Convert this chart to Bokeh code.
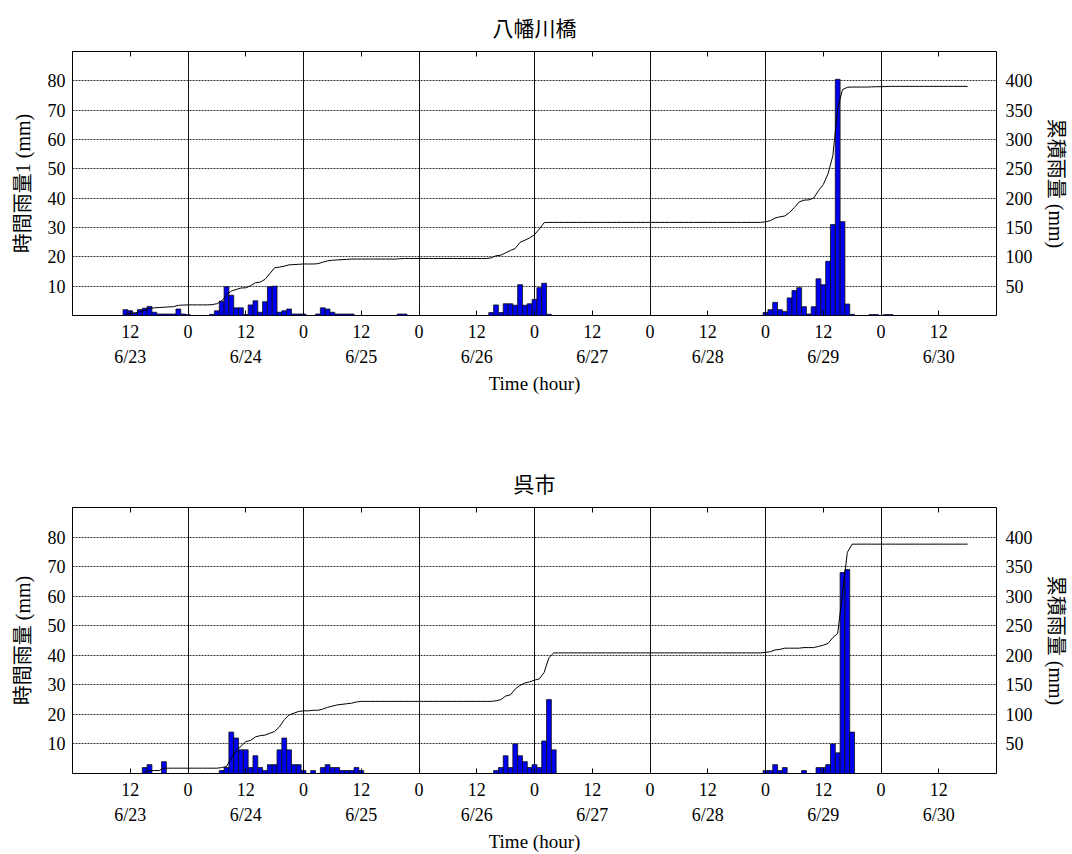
import numpy as np
from bokeh.plotting import figure
from bokeh.models import LinearAxis, FixedTicker, Range1d, Grid, ColumnDataSource, Title
from bokeh.layouts import column
from bokeh.embed import file_html
from bokeh.resources import INLINE

# ---------------- data ----------------
x_ticks = [12, 24, 36, 48, 60, 72, 84, 96, 108, 120, 132, 144, 156, 168, 180]
x_tick_labels = ["12", "0", "12", "0", "12", "0", "12", "0", "12", "0", "12", "0", "12", "0", "12"]
date_ticks = [12, 36, 60, 84, 108, 132, 156, 180]
date_labels = ["6/23", "6/24", "6/25", "6/26", "6/27", "6/28", "6/29", "6/30"]
midnights = [24, 48, 72, 96, 120, 144, 168]
left_ticks = [10, 20, 30, 40, 50, 60, 70, 80]
right_ticks = [50, 100, 150, 200, 250, 300, 350, 400]
end_hour = 186

titles = ["八幡川橋", "呉市"]
left_labels = ["時間雨量1 (mm)", "時間雨量 (mm)"]
right_label = "累積雨量 (mm)"
x_label = "Time (hour)"

# 八幡川橋 hourly rainfall (hour index from 6/23 0:00, mm)
yawata_hours = [11, 12, 13, 14, 15, 16, 17, 18, 19, 20, 21, 22, 23, 24,
                29, 30, 31, 32, 33, 34, 35, 36, 37, 38, 39, 40, 41, 42, 43, 44, 45, 46, 47, 48,
                51, 52, 53, 54, 55, 56, 57, 58,
                68, 69,
                87, 88, 89, 90, 91, 92, 93, 94, 95, 96, 97, 98, 99,
                144, 145, 146, 147, 148, 149, 150, 151, 152, 153, 154, 155, 156, 157, 158, 159, 160, 161, 162,
                166, 167, 169, 170]
yawata_rain = [2.0, 1.6, 0.8, 2.0, 2.5, 3.1, 1.1, 0.5, 0.5, 0.5, 0.5, 2.2, 0.5, 0.3,
               0.4, 1.6, 4.9, 9.8, 6.9, 2.6, 2.6, 0.3, 3.6, 5.0, 1.1, 4.7, 9.8, 10.0, 1.1, 1.6, 2.2, 0.5, 0.5, 0.5,
               0.5, 2.6, 2.2, 1.1, 0.5, 0.5, 0.5, 0.5,
               0.5, 0.5,
               1.0, 3.6, 1.0, 4.0, 4.0, 3.5, 10.5, 3.5, 4.0, 5.5, 9.5, 11.0, 0.4,
               1.0, 2.0, 4.5, 2.0, 1.4, 6.0, 8.5, 9.5, 3.0, 0.5, 3.0, 12.5, 10.5, 18.5, 31.0, 80.5, 32.0, 3.9, 0.4,
               0.3, 0.3, 0.3, 0.3]

# 呉市 hourly rainfall
kure_hours = [15, 16, 19,
              31, 32, 33, 34, 35, 36, 37, 38, 39, 40, 41, 42, 43, 44, 45, 46, 47, 48,
              50, 52, 53, 54, 55, 56, 57, 58, 59, 60,
              88, 89, 90, 91, 92, 93, 94, 95, 96, 97, 98, 99, 100,
              144, 145, 146, 147, 148, 152, 155, 156, 157, 158, 159, 160, 161, 162]
kure_rain = [2, 3, 4,
             1, 2, 14, 12, 8, 8, 2, 6, 2, 1, 3, 3, 8, 12, 8, 3, 3, 1,
             1, 2, 3, 2, 2, 1, 1, 1, 2, 1,
             1, 2, 6, 2, 10, 6, 4, 2, 3, 2, 11, 25, 8,
             1, 1, 3, 1, 2, 1, 2, 2, 3, 10, 7, 68, 69, 14]

SERIF = "'Liberation Serif', 'Times New Roman', serif"
MIXED = "'Liberation Serif', 'Noto Sans CJK JP'"
CJK = "Noto Sans CJK JP"


def cumulative(hours, rain, end):
    start = hours[0]
    full = np.zeros(end - start + 1)
    for h, r in zip(hours, rain):
        full[h - start] += r
    return np.arange(start, end + 1), np.cumsum(full)


def panel(title, ylabel, hours, rain, height, b_left, b_right, b_top, b_bottom, title_standoff):
    p = figure(width=1072, height=height, output_backend="svg", toolbar_location=None,
               x_range=Range1d(0, 192), y_range=Range1d(0, 90),
               x_axis_type=None, y_axis_type=None,
               min_border_left=b_left, min_border_right=b_right,
               min_border_top=b_top, min_border_bottom=b_bottom)
    p.extra_y_ranges = {"cum": Range1d(0, 450)}
    p.outline_line_color = "black"
    p.outline_line_width = 1
    p.background_fill_color = "white"
    p.border_fill_color = "white"

    # grids
    hg = Grid(dimension=1, ticker=FixedTicker(ticks=left_ticks, minor_ticks=[]),
              grid_line_color="#333333", grid_line_dash="2 1", grid_line_width=1)
    vg = Grid(dimension=0, ticker=FixedTicker(ticks=midnights, minor_ticks=[]),
              grid_line_color="#111111", grid_line_width=1)
    p.add_layout(hg)
    p.add_layout(vg)

    # bars
    src = ColumnDataSource(dict(x=hours, top=rain))
    p.vbar(x="x", top="top", width=1.0, source=src, fill_color="#0000f0",
           line_color="#101010", line_width=0.8)

    # cumulative line
    cx, cy = cumulative(hours, rain, end_hour)
    p.line(cx, cy, y_range_name="cum", line_color="black", line_width=1)

    def style(ax):
        ax.axis_line_color = None
        ax.major_label_text_font = SERIF
        ax.major_label_text_font_size = "18px"
        ax.major_label_text_color = "black"
        ax.major_tick_line_color = "black"
        ax.minor_tick_line_color = None
        ax.axis_label_text_font_style = "normal"
        ax.axis_label_text_color = "black"

    # left axis
    ly = LinearAxis(ticker=FixedTicker(ticks=left_ticks, minor_ticks=[]))
    style(ly)
    ly.major_tick_in = 0
    ly.major_tick_out = 0
    ly.major_label_standoff = 7
    ly.axis_label = ylabel
    ly.axis_label_text_font = MIXED
    ly.axis_label_text_font_size = "20px"
    ly.axis_label_standoff = 11
    p.add_layout(ly, "left")

    # right axis
    ry = LinearAxis(y_range_name="cum", ticker=FixedTicker(ticks=right_ticks, minor_ticks=[]))
    style(ry)
    ry.major_tick_in = 0
    ry.major_tick_out = 0
    ry.major_label_standoff = 9
    ry.axis_label = right_label
    ry.axis_label_text_font = MIXED
    ry.axis_label_text_font_size = "20px"
    ry.axis_label_standoff = 9
    p.add_layout(ry, "right")

    # bottom hour axis
    bx = LinearAxis(ticker=FixedTicker(ticks=x_ticks, minor_ticks=[]))
    style(bx)
    bx.major_tick_in = 5
    bx.major_tick_out = 0
    bx.major_label_standoff = 9
    bx.major_label_overrides = {t: l for t, l in zip(x_ticks, x_tick_labels)}
    p.add_layout(bx, "below")

    # bottom date axis
    dx = LinearAxis(ticker=FixedTicker(ticks=date_ticks, minor_ticks=[]))
    style(dx)
    dx.major_tick_in = 0
    dx.major_tick_out = 0
    dx.major_label_standoff = 6
    dx.major_label_overrides = {t: l for t, l in zip(date_ticks, date_labels)}
    dx.axis_label = x_label
    dx.axis_label_text_font = SERIF
    dx.axis_label_text_font_size = "19px"
    dx.axis_label_standoff = 3
    p.add_layout(dx, "below")

    # top tick marks (no labels)
    tx = LinearAxis(ticker=FixedTicker(ticks=x_ticks, minor_ticks=[]))
    style(tx)
    tx.major_tick_in = 5
    tx.major_tick_out = 0
    tx.major_label_overrides = {t: "" for t in x_ticks}
    tx.major_label_standoff = 0
    p.add_layout(tx, "above")

    # title, outside the tick axis
    t = Title(text=title, align="center", text_font=CJK, text_font_size="21px",
              text_font_style="normal", text_color="black", standoff=title_standoff)
    p.add_layout(t, "above")
    return p


p1 = panel(titles[0], left_labels[0], yawata_hours, yawata_rain, 396, 72, 75, 51, 80, 19)
p2 = panel(titles[1], left_labels[1], kure_hours, kure_rain, 458, 71, 76, 111, 81, 19)

layout = column(p1, p2)
open("out.html", "w").write(file_html(layout, INLINE))
